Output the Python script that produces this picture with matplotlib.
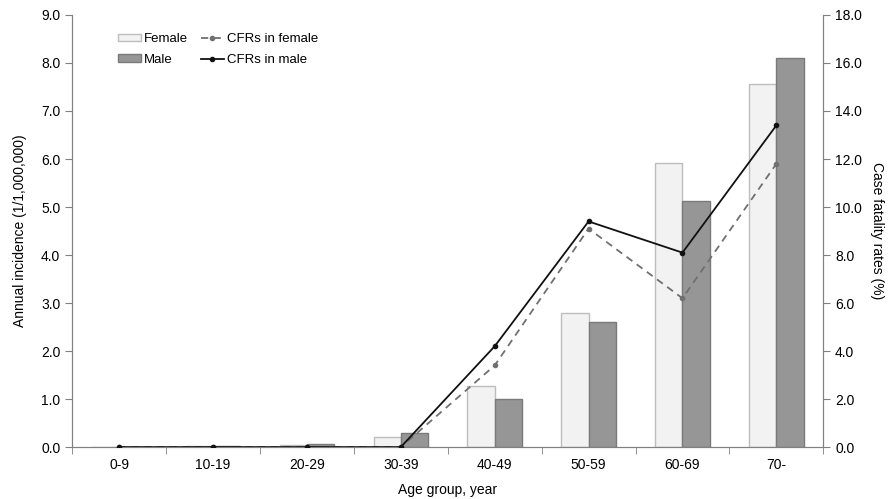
import numpy as np
import matplotlib.pyplot as plt

plt.rcParams['font.family'] = ['Liberation Sans', 'DejaVu Sans']

age_groups = ['0-9', '10-19', '20-29', '30-39', '40-49', '50-59', '60-69', '70-']
female_incidence = [0.01, 0.02, 0.04, 0.22, 1.28, 2.80, 5.92, 7.56]
male_incidence = [0.01, 0.03, 0.07, 0.30, 1.00, 2.60, 5.13, 8.10]
cfr_female = [0.0, 0.0, 0.0, 0.0, 3.4, 9.1, 6.2, 11.8]
cfr_male = [0.0, 0.0, 0.0, 0.0, 4.2, 9.4, 8.1, 13.4]

x = np.arange(len(age_groups))
w = 0.29

fig, ax = plt.subplots(figsize=(8.91, 4.99), dpi=100)
fig.subplots_adjust(left=0.081, right=0.924, top=0.97, bottom=0.104)

ax.bar(x - w / 2, female_incidence, w, color='#f2f2f2', edgecolor='#bdbdbd',
       linewidth=1, label='Female', zorder=2)
ax.bar(x + w / 2, male_incidence, w, color='#969696', edgecolor='#7a7a7a',
       linewidth=1, label='Male', zorder=2)

ax.set_xlim(-0.5, len(age_groups) - 0.5)
ax.set_ylim(0, 9)
ax.set_yticks(np.arange(0, 9.1, 1.0))
ax.set_yticklabels([f'{v:.1f}' for v in np.arange(0, 9.1, 1.0)])
ax.set_xticks(x)
ax.set_xticklabels(age_groups)
ax.set_xticks(np.arange(-0.5, len(age_groups), 1.0), minor=True)
ax.tick_params(axis='x', which='major', length=0, pad=8)
ax.tick_params(axis='x', which='minor', length=5, direction='out', color='#808080')
ax.tick_params(axis='y', length=5, direction='out', color='#808080')
ax.tick_params(labelsize=10)
ax.set_ylabel('Annual incidence (1/1,000,000)', fontsize=10, labelpad=10)
ax.set_xlabel('Age group, year', fontsize=10, labelpad=8)

ax2 = ax.twinx()
ax2.plot(x, cfr_female, color='#707070', linestyle=(0, (4, 3)), linewidth=1.3,
         marker='o', markersize=3, label='CFRs in female', zorder=3)
ax2.plot(x, cfr_male, color='#111111', linestyle='-', linewidth=1.3,
         marker='o', markersize=3, label='CFRs in male', zorder=3)
ax2.set_ylim(0, 18)
ax2.set_yticks(np.arange(0, 18.1, 2.0))
ax2.set_yticklabels([f'{v:.1f}' for v in np.arange(0, 18.1, 2.0)])
ax2.tick_params(axis='y', length=5, direction='out', color='#808080', labelsize=10)
ax2.set_ylabel('Case fatality rates (%)', fontsize=10, rotation=270, labelpad=16)

for a in (ax, ax2):
    a.spines['top'].set_visible(False)
    for s in ('left', 'right', 'bottom'):
        a.spines[s].set_color('#808080')

h1, l1 = ax.get_legend_handles_labels()
h2, l2 = ax2.get_legend_handles_labels()
ax.legend(h1 + h2, l1 + l2, ncol=2, loc='upper left', bbox_to_anchor=(0.045, 0.985),
          frameon=False, fontsize=9.5, handlelength=1.75, handleheight=0.5,
          handletextpad=0.2, columnspacing=1.0, labelspacing=0.65)

fig.savefig('out.png', dpi=100)
